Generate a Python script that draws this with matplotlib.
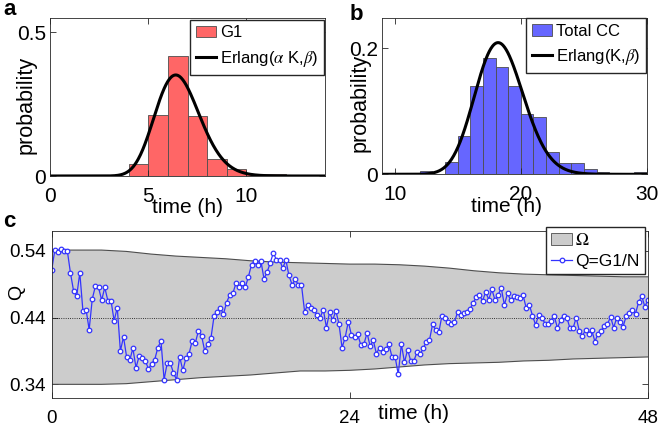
import numpy as np
import matplotlib
matplotlib.use('Agg')
import matplotlib.pyplot as plt
from matplotlib.patches import Patch
from math import lgamma

plt.rcParams['font.family'] = ['Liberation Sans', 'DejaVu Sans']
plt.rcParams['mathtext.fontset'] = 'stix'

# panel a: G1 duration histogram (bins of 1 h starting at 4 h)
g1_bin_start = [4, 5, 6, 7, 8, 9, 10, 11]
g1_prob = [0.043, 0.214, 0.418, 0.209, 0.059, 0.026, 0.008, 0.008]
erlang_a_k, erlang_a_beta = 33, 5.0   # alpha*K, beta

# panel b: total cell cycle histogram
cc_bin_start = [12, 13, 14, 15, 16, 17, 18, 19, 20, 21, 22, 23, 24, 25, 26, 27, 28, 29]
cc_prob = [0.005, 0.0, 0.020, 0.061, 0.140, 0.185, 0.170, 0.140, 0.096,
           0.091, 0.035, 0.018, 0.018, 0.008, 0.003, 0.0, 0.0, 0.003]
erlang_b_k, erlang_b_beta = 92, 5.0

# panel c: band Omega and Q = G1/N
band_t = [0, 2, 4, 6, 8, 10, 12, 14, 16, 18, 20, 22, 24, 26, 28, 30, 32, 34, 36, 38, 40, 42, 44, 46, 48]
band_upper = [0.541, 0.541, 0.541, 0.539, 0.535, 0.532, 0.530, 0.528, 0.525, 0.523, 0.522, 0.521, 0.520,
              0.520, 0.519, 0.517, 0.514, 0.510, 0.507, 0.505, 0.504, 0.503, 0.502, 0.501, 0.501]
band_lower = [0.340, 0.340, 0.340, 0.341, 0.344, 0.347, 0.350, 0.352, 0.354, 0.357, 0.360, 0.360, 0.361,
              0.363, 0.366, 0.369, 0.371, 0.372, 0.373, 0.375, 0.376, 0.378, 0.379, 0.380, 0.381]
q_mean = 0.44
q_vals = [0.511, 0.541, 0.538, 0.542, 0.540, 0.540, 0.507, 0.480, 0.472, 0.507,
          0.450, 0.452, 0.422, 0.468, 0.487, 0.485, 0.466, 0.485, 0.465, 0.465,
          0.435, 0.455, 0.390, 0.411, 0.381, 0.376, 0.394, 0.365, 0.382, 0.379,
          0.375, 0.363, 0.371, 0.377, 0.395, 0.405, 0.347, 0.372, 0.372, 0.357,
          0.347, 0.381, 0.361, 0.379, 0.386, 0.405, 0.402, 0.420, 0.413, 0.390,
          0.401, 0.409, 0.442, 0.448, 0.455, 0.445, 0.462, 0.474, 0.476, 0.491,
          0.485, 0.492, 0.485, 0.501, 0.519, 0.525, 0.519, 0.525, 0.498, 0.508,
          0.522, 0.537, 0.526, 0.526, 0.514, 0.526, 0.503, 0.489, 0.497, 0.489,
          0.489, 0.449, 0.459, 0.454, 0.451, 0.444, 0.440, 0.452, 0.425, 0.448,
          0.436, 0.450, 0.431, 0.395, 0.410, 0.434, 0.414, 0.411, 0.415, 0.399,
          0.400, 0.417, 0.397, 0.406, 0.386, 0.395, 0.389, 0.393, 0.400, 0.381,
          0.381, 0.355, 0.400, 0.373, 0.392, 0.375, 0.375, 0.388, 0.385, 0.394,
          0.404, 0.406, 0.430, 0.421, 0.418, 0.443, 0.440, 0.433, 0.430, 0.433,
          0.448, 0.444, 0.447, 0.449, 0.453, 0.462, 0.471, 0.474, 0.465, 0.478,
          0.467, 0.482, 0.466, 0.474, 0.484, 0.459, 0.476, 0.466, 0.472, 0.471,
          0.470, 0.473, 0.454, 0.459, 0.443, 0.429, 0.444, 0.440, 0.431, 0.430,
          0.435, 0.442, 0.424, 0.437, 0.443, 0.440, 0.424, 0.424, 0.440, 0.420,
          0.413, 0.421, 0.416, 0.421, 0.404, 0.416, 0.420, 0.428, 0.430, 0.441,
          0.425, 0.440, 0.433, 0.426, 0.442, 0.447, 0.451, 0.446, 0.463, 0.472,
          0.456, 0.467]
q_t = np.linspace(0, 48, len(q_vals))


def erlang_pdf(t, k, beta):
    t = np.asarray(t)
    return np.exp(k * np.log(beta) + (k - 1) * np.log(t) - beta * t - lgamma(k))


axis_col = (0.15, 0.15, 0.15)
red = (1.0, 0.4, 0.4)
blue_bar = (0.4, 0.4, 1.0)
blue_line = (0.2, 0.2, 1.0)
edge = (0.3, 0.3, 0.3)


def style(ax, size):
    for s in ax.spines.values():
        s.set_color(axis_col)
        s.set_linewidth(0.6)
    ax.tick_params(direction='in', top=True, right=True, length=4, width=0.6,
                   color=axis_col, labelsize=size, labelcolor='black')


legend_kw = dict(fancybox=False, framealpha=1, edgecolor=axis_col, borderaxespad=0,
                 handlelength=1.2, handletextpad=0.25, borderpad=0.35, labelspacing=0.5)

fig = plt.figure(figsize=(6.6, 4.3), dpi=100)

# ---- panel a ----
ax1 = fig.add_axes([50 / 660, 1 - 176 / 430, 275 / 660, 158 / 430])
bars_a = ax1.bar(g1_bin_start, g1_prob, width=1, align='edge', color=red,
                 edgecolor=edge, linewidth=0.6)
ta = np.linspace(0.01, 14, 500)
line_a, = ax1.plot(ta, erlang_pdf(ta, erlang_a_k, erlang_a_beta), color='black', lw=2.2)
ax1.set_xlim(0, 14)
ax1.set_ylim(0, 0.55)
ax1.set_xticks([0, 5, 10])
ax1.set_yticks([0, 0.5])
ax1.set_yticklabels(['0', '0.5'])
style(ax1, 15)
ax1.tick_params(axis='x', pad=8)
ax1.tick_params(axis='y', pad=3)
ax1.set_xlabel('time (h)', fontsize=15)
ax1.xaxis.set_label_coords(0.5, -0.14)
ax1.set_ylabel('probability', fontsize=15.5)
ax1.yaxis.set_label_coords(-0.05, 0.45)
ax1.legend([bars_a, line_a], ['G1', r'Erlang($\alpha$ K,$\beta$)'], loc='upper right',
           bbox_to_anchor=(0.995, 0.99), fontsize=12, **legend_kw)

# ---- panel b ----
ax2 = fig.add_axes([382 / 660, 1 - 174.3 / 430, 265 / 660, 156.3 / 430])
bars_b = ax2.bar(cc_bin_start, cc_prob, width=1, align='edge', color=blue_bar,
                 edgecolor=edge, linewidth=0.6)
tb = np.linspace(9, 30, 500)
line_b, = ax2.plot(tb, erlang_pdf(tb, erlang_b_k, erlang_b_beta), color='black', lw=2.2)
ax2.set_xlim(9, 30)
ax2.set_ylim(0, 0.248)
ax2.set_xticks([10, 20, 30])
ax2.set_yticks([0, 0.2])
ax2.set_yticklabels(['0', '0.2'])
style(ax2, 15)
ax2.tick_params(axis='x', pad=8)
ax2.tick_params(axis='y', pad=3)
ax2.set_xlabel('time (h)', fontsize=15)
ax2.xaxis.set_label_coords(0.47, -0.145)
ax2.set_ylabel('probability', fontsize=15.5)
ax2.yaxis.set_label_coords(-0.045, 0.456)
ax2.legend([bars_b, line_b], ['Total CC', r'Erlang(K,$\beta$)'], loc='upper right',
           bbox_to_anchor=(0.996, 1.0), fontsize=12, **legend_kw)

# ---- panel c ----
ax3 = fig.add_axes([51.7 / 660, 1 - 397.7 / 430, 596.3 / 660, 167 / 430])
ax3.fill_between(band_t, band_lower, band_upper, facecolor=(0.8, 0.8, 0.8),
                 edgecolor='none')
ax3.plot(band_t, band_upper, color=(0.3, 0.3, 0.3), lw=0.8)
ax3.plot(band_t, band_lower, color=(0.3, 0.3, 0.3), lw=0.8)
ax3.axhline(q_mean, color='black', ls=':', lw=0.6)
ax3.plot(q_t, q_vals, color=blue_line, lw=0.9, marker='o', markersize=3.3,
         markerfacecolor='white', markeredgecolor=blue_line, markeredgewidth=0.9)
ax3.set_xlim(0, 48)
ax3.set_ylim(0.32, 0.57)
ax3.set_xticks([0, 24, 48])
ax3.set_yticks([0.34, 0.44, 0.54])
ax3.set_yticklabels(['0.34', '0.44', '0.54'])
style(ax3, 13.5)
ax3.tick_params(axis='x', pad=9)
ax3.tick_params(axis='y', pad=4)
ax3.set_xlabel('time (h)', fontsize=15)
ax3.xaxis.set_label_coords(0.607, -0.035)
ax3.set_ylabel('Q', fontsize=14)
ax3.yaxis.set_label_coords(-0.045, 0.633)
leg_handles = [Patch(facecolor=(0.8, 0.8, 0.8), edgecolor=(0.3, 0.3, 0.3), lw=0.6),
               plt.Line2D([], [], color=blue_line, lw=0.9, marker='o', markersize=3.3,
                          markerfacecolor='white', markeredgewidth=0.9)]
ax3.legend(leg_handles, [r'$\Omega$', 'Q=G1/N'], loc='upper right',
           bbox_to_anchor=(0.995, 1.022), borderaxespad=0, fontsize=12.5,
           fancybox=False, framealpha=1, edgecolor=axis_col, handlelength=1.2,
           handletextpad=0.2, borderpad=0.3, labelspacing=0.3)

# panel letters
fig.text(3 / 660, 1 - 15 / 430, 'a', fontsize=16, fontweight='bold', va='baseline')
fig.text(350 / 660, 1 - 20 / 430, 'b', fontsize=16, fontweight='bold', va='baseline')
fig.text(3 / 660, 1 - 227 / 430, 'c', fontsize=16, fontweight='bold', va='baseline')

fig.savefig('out.png', dpi=100)
